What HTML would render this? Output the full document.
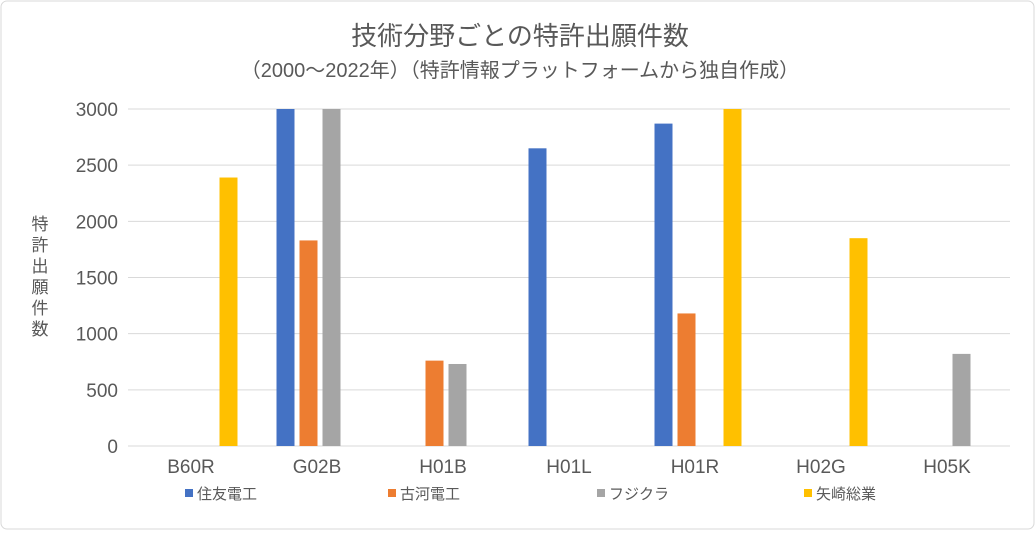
<!DOCTYPE html>
<html><head><meta charset="utf-8"><style>
body{margin:0;background:#fff;font-family:"Liberation Sans","Noto Sans CJK JP",sans-serif;}
#wrap{position:relative;width:1036px;height:531px;}
svg text{font-family:"Liberation Sans","Noto Sans CJK JP",sans-serif;fill:#595959;}
</style></head><body>
<div id="wrap">
<svg id="chart" width="1036" height="531">
<rect x="1" y="1" width="1033" height="528" rx="6" fill="#fff" stroke="#d9d9d9"/>
<text x="520" y="45" text-anchor="middle" font-size="26">技術分野ごとの特許出願件数</text>
<text x="520" y="77" text-anchor="middle" font-size="20">（2000〜2022年）（特許情報プラットフォームから独自作成）</text>
<text x="40" y="230" text-anchor="middle" font-size="17"><tspan x="40" dy="0">特</tspan><tspan x="40" dy="21">許</tspan><tspan x="40" dy="21">出</tspan><tspan x="40" dy="21">願</tspan><tspan x="40" dy="21">件</tspan><tspan x="40" dy="21">数</tspan></text>
<g id="grid"></g><g id="bars"></g><g id="xl"></g><g id="legend"></g>
</svg></div>
<script>
const categories=["B60R","G02B","H01B","H01L","H01R","H02G","H05K"];
const seriesNames=["住友電工","古河電工","フジクラ","矢崎総業"];
const sumitomo=[0,3500,0,2650,2870,0,0];
const furukawa=[0,1830,760,0,1180,0,0];
const fujikura=[0,3500,730,0,0,0,820];
const yazaki=[2390,0,0,0,3500,1850,0];
const yTicks=[0,500,1000,1500,2000,2500,3000];
const colors=["#4472c4","#ed7d31","#a5a5a5","#ffc000"];
const series=[sumitomo,furukawa,fujikura,yazaki];
const NS="http://www.w3.org/2000/svg";
const x0=128,x1=1010,y0=446,y1=109,yMax=3000;
const yS=v=>y0-Math.min(v,yMax)/yMax*(y0-y1);
const band=(x1-x0)/categories.length;
function mk(t,a,p){const e=document.createElementNS(NS,t);for(const k in a)e.setAttribute(k,a[k]);p.appendChild(e);return e;}
const grid=document.getElementById('grid');
yTicks.forEach(t=>{
 const l=mk('line',{x1:x0,x2:x1,y1:yS(t),y2:yS(t),stroke:'#d9d9d9','stroke-width':1},grid);
 
 
 const tx=mk('text',{x:118,y:yS(t)+7,'text-anchor':'end','font-size':19},grid);
 tx.textContent=t;
 
 
});
const bars=document.getElementById('bars');
const bw=18,gap=5;
categories.forEach((c,i)=>{
 const cx=x0+band*(i+0.5);
 const start=cx-(4*bw+3*gap)/2+3;
 series.forEach((s,j)=>{
  const v=s[i]; if(!v) return;
  const r=mk('rect',{x:start+j*(bw+gap),y:yS(v),width:bw,height:y0-yS(v),fill:colors[j]},bars);
  
  
 });
 const t=mk('text',{x:cx,y:473,'text-anchor':'middle','font-size':19},document.getElementById('xl'));
 t.textContent=c;
 
 
});
const lg=document.getElementById('legend');
const lx=[185,388,597,804];
seriesNames.forEach((n,j)=>{
 const r=mk('rect',{x:lx[j],y:489,width:8,height:8,fill:colors[j]},lg);
 
 
 const t=mk('text',{x:lx[j]+12,y:499,'font-size':15},lg);
 t.textContent=n;
 
 
});
</script>
</body></html>
